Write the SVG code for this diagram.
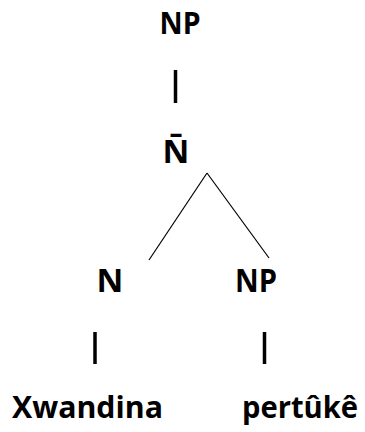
<svg xmlns="http://www.w3.org/2000/svg" width="365" height="432" viewBox="0 0 365 432">
<style>
text{font-family:"Open Sans","Noto Sans","Liberation Sans",sans-serif;font-weight:700;font-size:33px;fill:#000;text-anchor:middle}
text.w{font-size:31px}
text.top{font-size:31px}
.bar{stroke:#000;stroke-width:3.5}
.edge{stroke:#000;stroke-width:1.2;fill:none}
</style>
<rect width="365" height="432" fill="#fff"/>
<g id="connectors">
<line class="bar" x1="175.5" y1="70" x2="175.5" y2="103"/>
<line class="edge" x1="207" y1="173" x2="149" y2="260"/>
<line class="edge" x1="207" y1="173" x2="269" y2="258"/>
<line class="bar" x1="95" y1="332" x2="95" y2="364"/>
<line class="bar" x1="264.5" y1="332" x2="264.5" y2="364"/>
</g>
<g id="np-root"><text class="top" x="180" y="34" textLength="41" lengthAdjust="spacingAndGlyphs">NP</text></g>
<g id="nbar"><text x="176" y="163">N̄</text></g>
<g id="n"><text x="110" y="292">N</text></g>
<g id="np"><text x="256" y="292" textLength="42" lengthAdjust="spacingAndGlyphs">NP</text></g>
<g id="xwandina"><text class="w" x="87.5" y="418" textLength="151" lengthAdjust="spacingAndGlyphs">Xwandina</text></g>
<g id="pertuke"><text class="w" x="300" y="418" textLength="116" lengthAdjust="spacingAndGlyphs">pertûkê</text></g>
</svg>
